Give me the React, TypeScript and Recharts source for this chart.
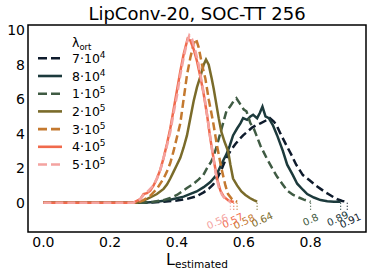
import React from "react";
import {
  LineChart,
  Line,
  XAxis,
  YAxis,
  ReferenceArea,
  ReferenceDot,
} from "recharts";

// density curves of L_estimated, one per lambda_ort  [x, density]
const L_7E4: [number, number][] = [
  [0, 0], [0.32, 0], [0.36, 0.05], [0.4, 0.12], [0.43, 0.22], [0.459, 0.37],
  [0.48, 0.6], [0.495, 0.8], [0.508, 1.04], [0.52, 1.4], [0.535, 2.0],
  [0.548, 2.6], [0.56, 3.0], [0.575, 3.4], [0.588, 3.7], [0.598, 3.9],
  [0.61, 4.1], [0.625, 4.35], [0.638, 4.5], [0.65, 4.6], [0.665, 4.75],
  [0.678, 4.9], [0.69, 4.7], [0.698, 4.5], [0.71, 4.0], [0.727, 3.35],
  [0.742, 2.8], [0.757, 2.2], [0.777, 1.6], [0.797, 1.3], [0.815, 1.0],
  [0.83, 0.8], [0.845, 0.6], [0.857, 0.46], [0.87, 0.3], [0.88, 0.2],
  [0.895, 0.1], [0.91, 0.05],
];
const L_8E4: [number, number][] = [
  [0, 0], [0.3, 0], [0.34, 0.05], [0.38, 0.17], [0.42, 0.35], [0.459, 0.65],
  [0.48, 0.9], [0.5, 1.2], [0.518, 1.6], [0.53, 2.1], [0.54, 2.5],
  [0.548, 2.8], [0.558, 3.3], [0.568, 3.9], [0.58, 4.3], [0.59, 4.6],
  [0.598, 4.9], [0.61, 4.8], [0.62, 5.0], [0.628, 5.1], [0.64, 4.9],
  [0.648, 5.2], [0.656, 5.57], [0.665, 5.0], [0.675, 4.9], [0.687, 4.5],
  [0.7, 3.9], [0.717, 3.0], [0.73, 2.2], [0.747, 1.6], [0.76, 1.1],
  [0.777, 0.75], [0.79, 0.5], [0.81, 0.3], [0.83, 0.15], [0.85, 0.08],
  [0.87, 0.06], [0.89, 0.05],
];
const L_1E5: [number, number][] = [
  [0, 0], [0.3, 0], [0.33, 0.05], [0.36, 0.15], [0.38, 0.27], [0.4, 0.45],
  [0.43, 0.85], [0.45, 1.1], [0.465, 1.35], [0.479, 1.6], [0.49, 2.0],
  [0.5, 2.3], [0.508, 2.6], [0.518, 3.2], [0.528, 3.9], [0.538, 4.6],
  [0.548, 5.3], [0.56, 5.6], [0.57, 5.9], [0.578, 6.05], [0.59, 5.7],
  [0.6, 5.4], [0.608, 5.3], [0.62, 4.6], [0.63, 4.3], [0.638, 3.9],
  [0.65, 3.3], [0.668, 2.6], [0.685, 2.0], [0.7, 1.5], [0.715, 1.1],
  [0.73, 0.7], [0.747, 0.46], [0.765, 0.3], [0.78, 0.18], [0.8, 0.05],
];
const L_2E5: [number, number][] = [
  [0, 0], [0.28, 0], [0.3, 0.12], [0.32, 0.3], [0.34, 0.5], [0.36, 0.8],
  [0.37, 1.05], [0.38, 1.4], [0.39, 1.8], [0.4, 2.2], [0.41, 2.6],
  [0.42, 3.2], [0.43, 3.9], [0.44, 4.9], [0.45, 5.9], [0.46, 6.7],
  [0.47, 7.3], [0.48, 8.0], [0.487, 8.3], [0.495, 8.0], [0.504, 7.2],
  [0.51, 6.6], [0.518, 5.7], [0.525, 4.9], [0.533, 4.1], [0.543, 3.5],
  [0.553, 3.0], [0.56, 2.2], [0.568, 1.4], [0.58, 1.0], [0.593, 0.65],
  [0.605, 0.45], [0.618, 0.27], [0.63, 0.15], [0.64, 0.06],
];
const L_3E5: [number, number][] = [
  [0, 0], [0.28, 0], [0.3, 0.15], [0.32, 0.4], [0.34, 0.8], [0.36, 1.4],
  [0.37, 1.8], [0.38, 2.3], [0.39, 3.0], [0.4, 3.8], [0.41, 4.6],
  [0.42, 6.0], [0.43, 7.4], [0.44, 8.4], [0.45, 9.2], [0.457, 9.5],
  [0.465, 9.0], [0.475, 8.0], [0.485, 7.2], [0.495, 6.0], [0.508, 4.7],
  [0.52, 3.3], [0.533, 2.0], [0.545, 1.0], [0.553, 0.5], [0.565, 0.2],
  [0.58, 0.05],
];
const L_4E5: [number, number][] = [
  [0, 0], [0.27, 0], [0.29, 0.2], [0.3, 0.5], [0.31, 0.55], [0.32, 0.7],
  [0.33, 1.0], [0.34, 1.4], [0.35, 1.9], [0.36, 2.6], [0.37, 3.4],
  [0.38, 4.3], [0.39, 5.4], [0.4, 6.5], [0.41, 7.6], [0.42, 8.6],
  [0.432, 9.5], [0.44, 9.4], [0.45, 8.9], [0.46, 8.2], [0.47, 7.3],
  [0.48, 6.3], [0.49, 5.1], [0.5, 3.7], [0.51, 2.5], [0.52, 1.4],
  [0.53, 0.7], [0.54, 0.35], [0.555, 0.12], [0.57, 0.04],
];
const L_5E5: [number, number][] = [
  [0, 0], [0.27, 0], [0.29, 0.2], [0.3, 0.45], [0.31, 0.6], [0.32, 0.8],
  [0.33, 1.0], [0.34, 1.4], [0.35, 1.9], [0.36, 2.6], [0.37, 3.3],
  [0.38, 4.1], [0.39, 5.2], [0.4, 6.2], [0.41, 7.4], [0.42, 8.4],
  [0.43, 9.3], [0.437, 9.7], [0.445, 9.5], [0.455, 8.8], [0.465, 8.0],
  [0.475, 6.9], [0.485, 5.8], [0.495, 4.4], [0.505, 3.1], [0.515, 1.8],
  [0.525, 0.9], [0.535, 0.45], [0.545, 0.2], [0.56, 0.05],
];

const LAMBDA_BASE = ["7", "8", "1", "2", "3", "4", "5"];
const LAMBDA_EXP = ["4", "4", "5", "5", "5", "5", "5"];
const CURVES = [L_7E4, L_8E4, L_1E5, L_2E5, L_3E5, L_4E5, L_5E5];

const X_TICKS = [0, 0.2, 0.4, 0.6, 0.8];
const Y_TICKS = [0, 2, 4, 6, 8, 10];

// styling
const COLORS = ["#0e1b2c", "#1c3a3c", "#3f5b43", "#7a6b2a", "#c4792f", "#f06a4c", "#f4a3a0"];
const DASHED = [true, false, true, false, true, false, true];
const LABEL_DX = [3, -3, 0, 5, 7, -1, -13];
const LABEL_DY = [18, 16, 17, 17, 19, 18, 19];
const X_DOMAIN = [-0.046, 0.966];
const Y_DOMAIN = [-1.7, 10.3];
const FONT = "DejaVu Sans, sans-serif";

const series = CURVES.map((pts, i) => ({
  data: pts.map(([x, y]) => ({ x, y })),
  max: pts[pts.length - 1][0],
  color: COLORS[i],
  dashed: DASHED[i],
}));

function EndMarker({ cx, cy, color, text, dx, dy }: any) {
  return (
    <g>
      <line
        x1={cx}
        y1={cy}
        x2={cx}
        y2={cy + 8}
        stroke={color}
        strokeWidth={1.2}
        strokeDasharray="1 2"
      />
      <text
        transform={`translate(${cx + dx}, ${cy + dy}) rotate(-25)`}
        textAnchor="middle"
        dominantBaseline="central"
        fill={color}
        fontSize={10}
        fontFamily={FONT}
      >
        {text}
      </text>
    </g>
  );
}

function Overlay() {
  return (
    <svg
      width={373}
      height={275}
      style={{ position: "absolute", left: 0, top: 0, pointerEvents: "none" }}
      fontFamily={FONT}
    >
      <text x={197} y={20} textAnchor="middle" fontSize={18} fill="#000">
        LipConv-20, SOC-TT 256
      </text>
      <text x={72} y={47} fontSize={12.5} fill="#000">
        λ<tspan dy={3} fontSize={8.5}>ort</tspan>
      </text>
      {series.map((s, i) => {
        const y = 58.3 + i * 17.7;
        return (
          <g key={i}>
            <line
              x1={38}
              x2={62}
              y1={y}
              y2={y}
              stroke={s.color}
              strokeWidth={2.6}
              strokeDasharray={s.dashed ? "9 4" : undefined}
            />
            <text x={72} y={y + 4.5} fontSize={12.5} fill="#000">
              {LAMBDA_BASE[i]}·10
              <tspan dy={-5} fontSize={9}>
                {LAMBDA_EXP[i]}
              </tspan>
            </text>
          </g>
        );
      })}
      <text x={197} y={265} textAnchor="middle" fontSize={16} fill="#000">
        L<tspan dy={3} fontSize={10.5}>estimated</tspan>
      </text>
    </svg>
  );
}

export default function App() {
  return (
    <div style={{ position: "absolute", left: 0, top: 0, width: 373, height: 275, background: "#fff" }}>
      <LineChart
        width={373}
        height={275}
        margin={{ top: 25, right: 7, left: 0, bottom: 0 }}
      >
        <XAxis
          type="number"
          dataKey="x"
          domain={X_DOMAIN}
          ticks={X_TICKS}
          tickFormatter={(v: number) => v.toFixed(1)}
          height={43}
          axisLine={false}
          tickLine={false}
          tickSize={3}
          tickMargin={2}
          tick={{ fontSize: 14, fill: "#000", fontFamily: FONT }}
          allowDataOverflow
        />
        <YAxis
          type="number"
          domain={Y_DOMAIN}
          ticks={Y_TICKS}
          width={28}
          axisLine={false}
          tickLine={false}
          tickSize={3}
          tickMargin={0}
          tick={{ fontSize: 14, fill: "#000", fontFamily: FONT }}
          allowDataOverflow
        />
        <ReferenceArea
          x1={X_DOMAIN[0]}
          x2={X_DOMAIN[1]}
          y1={Y_DOMAIN[0]}
          y2={Y_DOMAIN[1]}
          fill="none"
          stroke="#000"
          strokeWidth={1.5}
          fillOpacity={0}
        />
        {series.map((s, i) => (
          <Line
            key={i}
            data={s.data}
            dataKey="y"
            type="linear"
            stroke={s.color}
            strokeWidth={2.5}
            strokeDasharray={s.dashed ? "8 4" : undefined}
            dot={false}
            activeDot={false}
            isAnimationActive={false}
          />
        ))}
        {series.map((s, i) => (
          <ReferenceDot
            key={`m${i}`}
            x={s.max}
            y={0}
            r={0}
            shape={(p: any) => (
              <EndMarker
                cx={p.cx}
                cy={p.cy}
                color={s.color}
                text={String(s.max)}
                dx={LABEL_DX[i]}
                dy={LABEL_DY[i]}
              />
            )}
          />
        ))}
      </LineChart>
      <Overlay />
    </div>
  );
}
